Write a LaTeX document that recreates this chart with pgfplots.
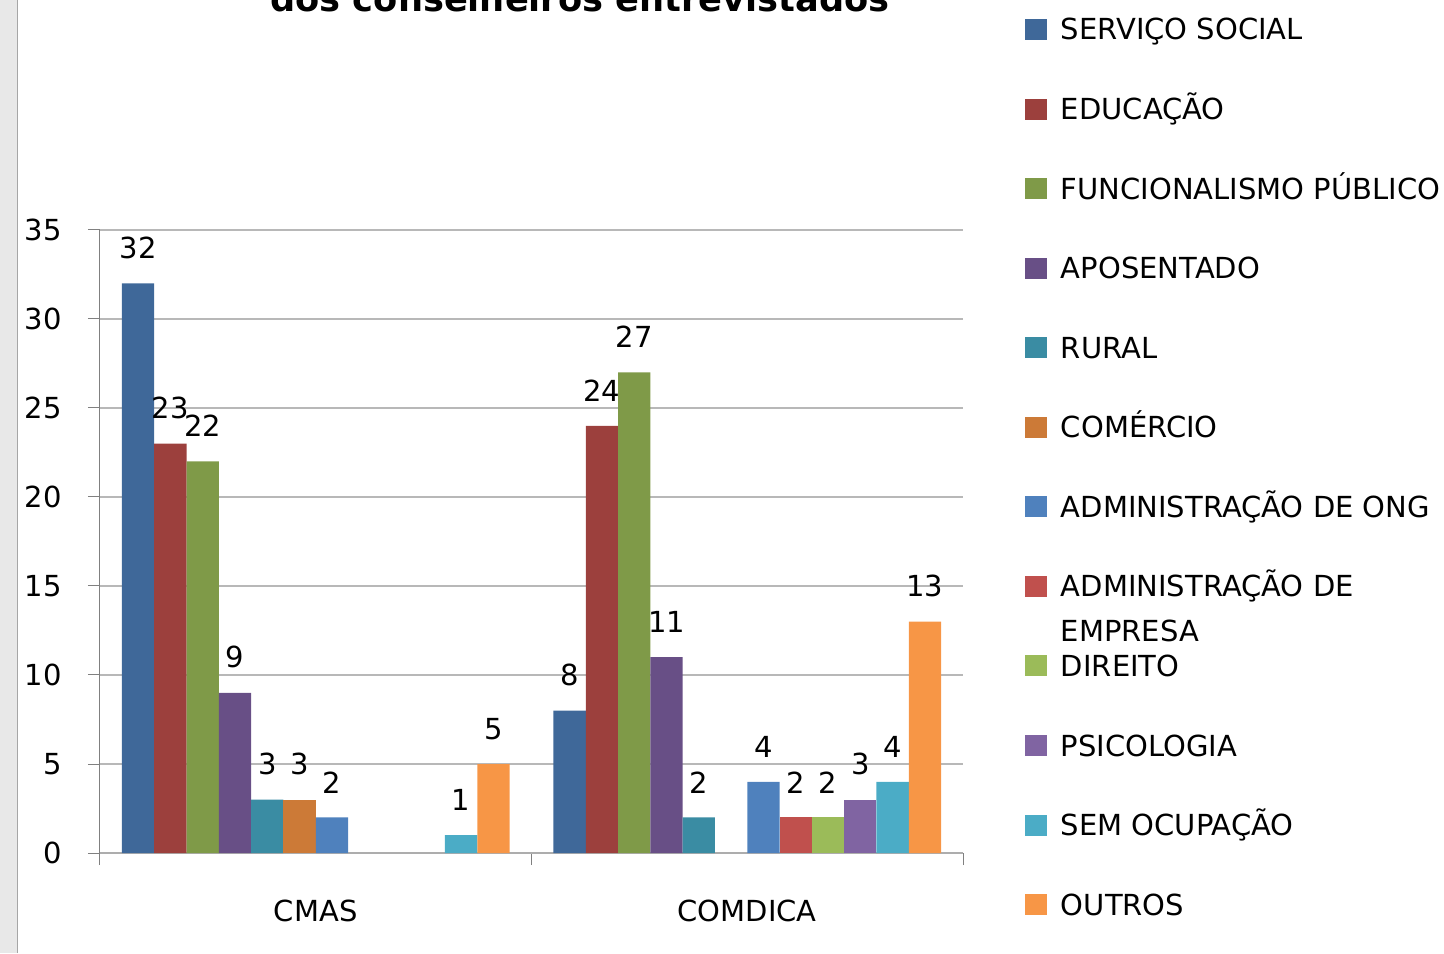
\documentclass[border=0pt]{standalone}
\usepackage{fontspec}
\setmainfont{DejaVu Sans}
\usepackage{pgfplots}
\pgfplotsset{compat=1.18}
\definecolor{cA}{HTML}{3F6899}
\definecolor{cB}{HTML}{9C403D}
\definecolor{cC}{HTML}{7F9A48}
\definecolor{cD}{HTML}{684F86}
\definecolor{cE}{HTML}{3A8CA3}
\definecolor{cF}{HTML}{CC7A37}
\definecolor{cG}{HTML}{4F81BD}
\definecolor{cH}{HTML}{C0504D}
\definecolor{cI}{HTML}{9BBB59}
\definecolor{cJ}{HTML}{8064A2}
\definecolor{cK}{HTML}{4BACC6}
\definecolor{cL}{HTML}{F79646}
\begin{document}
\begin{tikzpicture}
\useasboundingbox (0,0) rectangle (722pt,476.5pt);
\clip (0,0) rectangle (722pt,476.5pt);
\fill[black!9] (0,0) rectangle (8.3pt,476.5pt);
\draw[black!35, line width=0.6pt] (8.6pt,0) -- (8.6pt,476.5pt);
\node[font=\fontsize{17.6}{20}\selectfont\bfseries, anchor=base, inner sep=0pt] at (290pt,470.5pt) {dos conselheiros entrevistados};
\begin{axis}[
  at={(50pt,50pt)}, anchor=south west,
  scale only axis, width=431.5pt, height=311.5pt,
  xmin=-0.5, xmax=1.5, ymin=0, ymax=35,
  ybar=0pt, bar width=16.15pt,
  xtick={-0.5,0.5,1.5}, xticklabels={CMAS,COMDICA}, x tick label as interval,
  ytick={0,5,10,15,20,25,30,35},
  axis x line*=bottom, axis y line*=left,
  x axis line style={black!32, line width=1pt},
  y axis line style={black!50, line width=0.5pt},
  tick align=outside, major tick length=6pt,
  tick style={black!50, line width=0.5pt},
  ymajorgrids, grid style={black!28, line width=1pt},
  /pgf/number format/assume math mode=true,
  tick label style={font=\fontsize{14.5}{17}\selectfont},
  xticklabel style={anchor=base, yshift=-28pt},
  yticklabel style={anchor=east, inner sep=0pt, xshift=-13pt},
  nodes near coords,
  nodes near coords style={font=\fontsize{14.5}{17}\selectfont, anchor=south, inner sep=0pt, yshift=12pt, text=black},
  legend style={at={(1.0718,1.3387)}, anchor=north west, draw=none, fill=none, inner sep=0pt, outer sep=0pt,
    row sep=29.28pt, column sep=7pt, font=\fontsize{14.5}{22.5}\selectfont,
    nodes={inner sep=0pt, text height=10.5pt, text depth=0pt}},
  legend cell align=left,
  legend image code/.code={\fill[#1] (0pt,-5.25pt) rectangle (11pt,5.25pt);},
  clip=false,
]
\addplot[fill=cA, draw=none] coordinates {(0,32) (1,8)};
\addplot[fill=cB, draw=none] coordinates {(0,23) (1,24)};
\addplot[fill=cC, draw=none] coordinates {(0,22) (1,27)};
\addplot[fill=cD, draw=none] coordinates {(0,9) (1,11)};
\addplot[fill=cE, draw=none] coordinates {(0,3) (1,2)};
\addplot[fill=cF, draw=none] coordinates {(0,3)};
\addplot[fill=cG, draw=none] coordinates {(0,2) (1,4)};
\addplot[fill=cH, draw=none] coordinates {(1,2)};
\addplot[fill=cI, draw=none] coordinates {(1,2)};
\addplot[fill=cJ, draw=none] coordinates {(1,3)};
\addplot[fill=cK, draw=none] coordinates {(0,1) (1,4)};
\addplot[fill=cL, draw=none] coordinates {(0,5) (1,13)};
\legend{SERVIÇO SOCIAL, EDUCAÇÃO, FUNCIONALISMO PÚBLICO, APOSENTADO, RURAL, COMÉRCIO, ADMINISTRAÇÃO DE ONG, \parbox[t]{200pt}{ADMINISTRAÇÃO DE\\EMPRESA}, DIREITO, PSICOLOGIA, SEM OCUPAÇÃO, OUTROS}
\end{axis}
\end{tikzpicture}
\end{document}
